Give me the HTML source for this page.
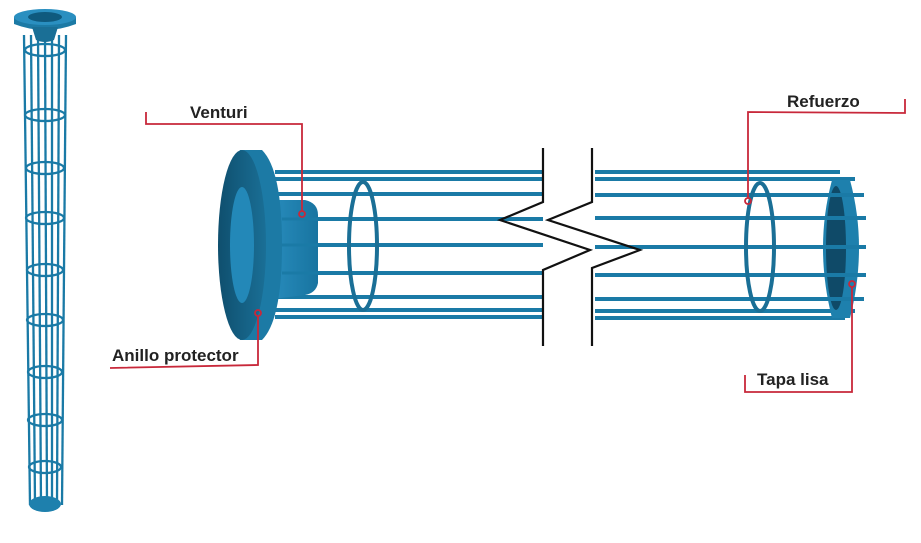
<!DOCTYPE html>
<html><head><meta charset="utf-8"><style>
html,body{margin:0;padding:0;background:#fff;width:921px;height:543px;overflow:hidden}
text{font-family:"Liberation Sans",Arial,sans-serif;font-weight:bold;font-size:17px;fill:#222}
</style></head><body>
<svg width="921" height="543" viewBox="0 0 921 543" xmlns="http://www.w3.org/2000/svg">
<defs>
<linearGradient id="g1" x1="0" x2="1"><stop offset="0" stop-color="#0f4f6e"/><stop offset="1" stop-color="#1a6f96"/></linearGradient>
<linearGradient id="g2" x1="0" x2="1"><stop offset="0" stop-color="#2a8fc0"/><stop offset="1" stop-color="#1874a0"/></linearGradient>
</defs>
<g stroke="#1a7aa6" stroke-width="2.3" fill="none">
<line x1="24" y1="35" x2="30" y2="505"/><line x1="31" y1="35" x2="35" y2="505"/><line x1="38" y1="35" x2="41" y2="507"/>
<line x1="45" y1="35" x2="47" y2="507"/><line x1="52" y1="35" x2="52" y2="507"/><line x1="59" y1="35" x2="57" y2="505"/>
<line x1="66" y1="35" x2="62" y2="505"/>
<ellipse cx="45" cy="50" rx="20" ry="6"/><ellipse cx="45" cy="115" rx="20" ry="6"/><ellipse cx="45" cy="168" rx="19" ry="6"/>
<ellipse cx="45" cy="218" rx="19" ry="6"/><ellipse cx="45" cy="270" rx="18" ry="6"/><ellipse cx="45" cy="320" rx="18" ry="6"/>
<ellipse cx="45" cy="372" rx="17" ry="6"/><ellipse cx="45" cy="420" rx="17" ry="6"/><ellipse cx="45" cy="467" rx="16" ry="6"/>
</g>
<ellipse cx="45" cy="504" rx="16" ry="8" fill="#1e80ad"/>
<path d="M14 17 L14 24 Q45 36 76 24 L76 17 Z" fill="#1c7aa5"/>
<ellipse cx="45" cy="17" rx="31" ry="8" fill="#2a8fc0"/>
<ellipse cx="45" cy="17" rx="17" ry="5" fill="#0f5a7e"/>
<path d="M32 27 L36 40 Q45 44 54 40 L58 27 Z" fill="#1a6f96"/>
<g stroke="#1a7aa6" stroke-width="4">
<line x1="275" y1="172" x2="543" y2="172"/><line x1="275" y1="179" x2="543" y2="179"/>
<line x1="275" y1="194" x2="543" y2="194"/><line x1="275" y1="219" x2="543" y2="219"/>
<line x1="275" y1="245" x2="543" y2="245"/><line x1="275" y1="273" x2="543" y2="273"/>
<line x1="275" y1="297" x2="543" y2="297"/><line x1="275" y1="310" x2="543" y2="310"/><line x1="275" y1="317" x2="543" y2="317"/>
<line x1="595" y1="172" x2="840" y2="172"/><line x1="595" y1="179" x2="855" y2="179"/>
<line x1="595" y1="195" x2="862" y2="195"/><line x1="595" y1="218" x2="865" y2="218"/>
<line x1="595" y1="247" x2="865" y2="247"/><line x1="595" y1="275" x2="865" y2="275"/>
<line x1="595" y1="299" x2="862" y2="299"/><line x1="595" y1="311" x2="855" y2="311"/><line x1="595" y1="318" x2="845" y2="318"/>
</g>
<g fill="none" stroke="#1a6f96" stroke-width="4">
<ellipse cx="363" cy="246" rx="14" ry="64"/>
<ellipse cx="760" cy="247" rx="14" ry="64"/>
</g>
<path d="M832 180 Q814 247 832 318 L850 318 Q868 247 850 180 Z" fill="#1e80ad"/>
<ellipse cx="836" cy="248" rx="10" ry="62" fill="#0f4a68"/>
<g stroke="#1a7aa6" stroke-width="4"><line x1="820" y1="195" x2="864" y2="195"/><line x1="820" y1="218" x2="866" y2="218"/><line x1="820" y1="247" x2="866" y2="247"/><line x1="820" y1="275" x2="866" y2="275"/><line x1="820" y1="299" x2="864" y2="299"/></g>
<path d="M265 200 L305 200 Q318 203 318 215 L318 283 Q316 293 305 295 L265 300 Z" fill="url(#g2)"/>
<g stroke="#1a7aa6" stroke-width="3"><line x1="282" y1="219" x2="318" y2="219"/><line x1="282" y1="245" x2="318" y2="245"/><line x1="282" y1="273" x2="318" y2="273"/></g>
<path d="M240 150 L262 150 Q282 170 282 245 Q282 320 262 340 L240 340 Z" fill="#1c7aa5"/>
<ellipse cx="242" cy="245" rx="24" ry="95" fill="url(#g1)"/>
<ellipse cx="242" cy="245" rx="12" ry="58" fill="#2388b8"/>
<g stroke="#111" stroke-width="2.2" fill="none">
<polyline points="543,148 543,202 500,220 590,250 543,270 543,346"/>
<polyline points="592,148 592,202 548,220 640,250 592,268 592,346"/>
</g>
<g stroke="#c8283a" stroke-width="1.8" fill="none">
<polyline points="146,112 146,124 302,124 302,212"/>
<circle cx="302" cy="214" r="3"/>
<polyline points="110,368 258,365 258,316"/>
<circle cx="258" cy="313" r="3"/>
<polyline points="748,198 748,112 905,113 905,99"/>
<circle cx="748" cy="201" r="3"/>
<polyline points="745,375 745,392 852,392 852,287"/>
<circle cx="852" cy="284" r="3"/>
</g>
<text x="190" y="118">Venturi</text>
<text x="112" y="361">Anillo protector</text>
<text x="787" y="107">Refuerzo</text>
<text x="757" y="385">Tapa lisa</text>
</svg>
</body></html>
